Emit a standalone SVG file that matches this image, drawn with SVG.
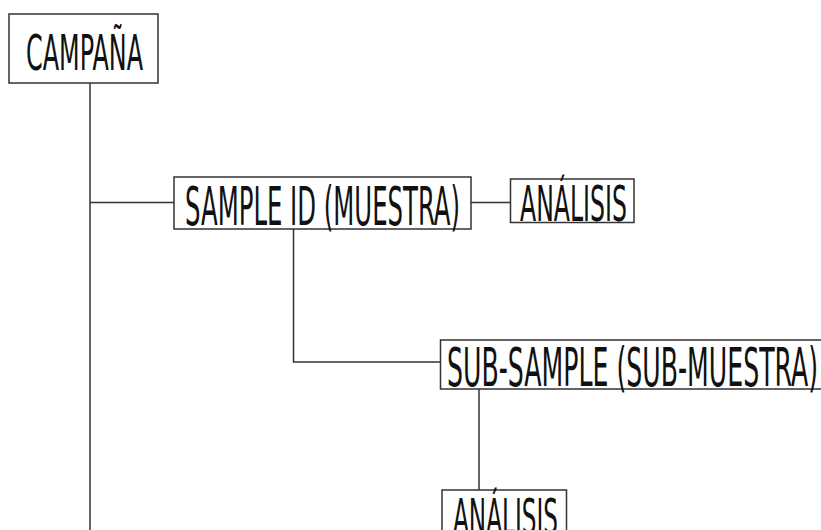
<svg xmlns="http://www.w3.org/2000/svg" width="821" height="530" viewBox="0 0 821 530">
<style>
.box{fill:#fff;stroke:#333;stroke-width:1.5}
.lbl{font-family:"Liberation Sans Narrow","DejaVu Sans Condensed","Liberation Sans",sans-serif;fill:#111;font-weight:normal}
.con{stroke:#333;stroke-width:1.5;fill:none}
</style>
<rect width="821" height="530" fill="#fff"/>
<g id="connectors">
<line class="con" x1="90" y1="83" x2="90" y2="530"/>
<line class="con" x1="90" y1="202.5" x2="174" y2="202.5"/>
<line class="con" x1="471" y1="202.5" x2="510" y2="202.5"/>
<polyline class="con" points="293.5,229 293.5,362 440,362"/>
<line class="con" x1="479" y1="389" x2="479" y2="490"/>
</g>
<g id="campana">
<rect class="box" x="9" y="14" width="149" height="69"/>
<text class="lbl" x="26" y="70" font-size="49" textLength="117" lengthAdjust="spacingAndGlyphs">CAMPAÑA</text>
</g>
<g id="sample">
<rect class="box" x="174" y="177" width="297" height="52"/>
<text class="lbl" x="185" y="225" font-size="54" textLength="275" lengthAdjust="spacingAndGlyphs">SAMPLE ID (MUESTRA)</text>
</g>
<g id="analisis1">
<rect class="box" x="510.5" y="179" width="123.5" height="43.5"/>
<text class="lbl" x="520" y="221" font-size="49" textLength="107" lengthAdjust="spacingAndGlyphs">ANÁLISIS</text>
</g>
<g id="subsample">
<rect class="box" x="440.5" y="340" width="385" height="49"/>
<text class="lbl" x="447" y="386" font-size="54" textLength="371" lengthAdjust="spacingAndGlyphs">SUB-SAMPLE (SUB-MUESTRA)</text>
</g>
<g id="analisis2">
<rect class="box" x="442" y="490" width="124.5" height="50"/>
<text class="lbl" x="453" y="534" font-size="49" textLength="105" lengthAdjust="spacingAndGlyphs">ANÁLISIS</text>
</g>
</svg>
